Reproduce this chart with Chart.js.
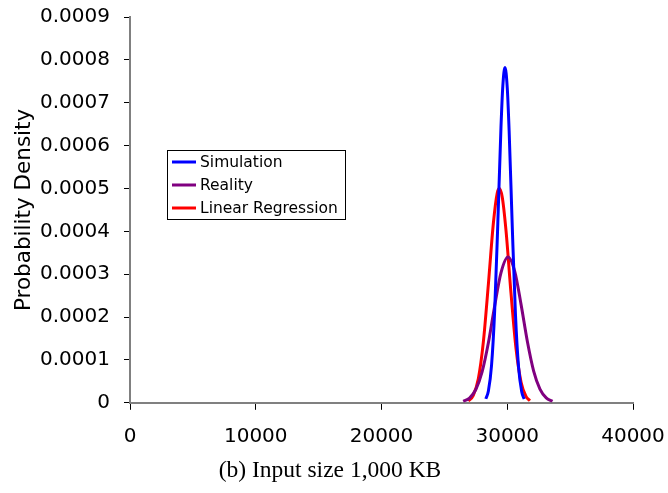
<!DOCTYPE html>
<html>
<head>
<meta charset="utf-8">
<script src="https://cdn.jsdelivr.net/npm/chart.js@4/dist/chart.umd.min.js"></script>
<style>
  html, body { margin: 0; padding: 0; background: #fff; }
  #wrap { width: 668px; height: 493px; }
</style>
</head>
<body>
<div id="wrap"><canvas id="pdfChart" width="668" height="493"></canvas></div>
<script>
// values (input size in KB vs probability density)
const simX = [28300, 28500, 28750, 29000, 29250, 29500, 29650, 29820, 30000, 30150, 30400, 30650, 30900, 31150, 31350];
const simY = [0.0000092, 0.0000274, 0.000087, 0.000215, 0.000419, 0.000642, 0.00074, 0.000782, 0.000735, 0.000634, 0.00041, 0.000208, 0.000083, 0.000026, 0.0000087];

const realX = [26500, 27000, 27500, 28000, 28500, 29000, 29500, 30060, 30600, 31100, 31600, 32100, 32600, 33100, 33600];
const realY = [0.0000034, 0.000011, 0.000031, 0.000072, 0.00014, 0.000226, 0.000303, 0.00034, 0.000306, 0.000229, 0.000143, 0.000074, 0.000032, 0.0000116, 0.0000035];

const lrX = [26900, 27300, 27700, 28100, 28500, 28900, 29200, 29370, 29600, 29900, 30300, 30700, 31100, 31500, 31800];
const lrY = [0.0000042, 0.0000175, 0.000056, 0.000142, 0.000277, 0.00042, 0.000489, 0.0005, 0.00048, 0.000402, 0.000255, 0.000126, 0.000048, 0.0000145, 0.000005];

const seriesNames = ['Simulation', 'Reality', 'Linear Regression'];
const seriesColors = ['#0000ff', '#800080', '#ff0000'];

const xTicks = [0, 10000, 20000, 30000, 40000];
const yMax = 0.0009;
const yStep = 0.0001;

const SANS = "'DejaVu Sans', Verdana, sans-serif";

function toPoints(xs, ys) {
    return xs.map((x, i) => ({ x: x, y: ys[i] }));
}

// legend drawn inside the plot area, boxed, like the original
const boxLegend = {
    id: 'boxLegend',
    afterDraw(chart) {
        const ctx = chart.ctx;
        const left = 167, top = 150, w = 178, h = 69;
        ctx.save();
        ctx.fillStyle = '#fff';
        ctx.fillRect(left, top, w, h);
        ctx.strokeStyle = '#000';
        ctx.lineWidth = 1;
        ctx.strokeRect(left + 0.5, top + 0.5, w, h);
        ctx.font = "15.5px " + SANS;
        ctx.textBaseline = 'middle';
        chart.data.datasets.forEach((ds, i) => {
            const y = top + 12 + i * 23;
            ctx.strokeStyle = ds.borderColor;
            ctx.lineWidth = 3;
            ctx.beginPath();
            ctx.moveTo(left + 5, y);
            ctx.lineTo(left + 29, y);
            ctx.stroke();
            ctx.fillStyle = '#000';
            ctx.fillText(ds.label, left + 33, y + 1);
        });
        ctx.restore();
    }
};

function initChart() {
    const ctx = document.getElementById('pdfChart').getContext('2d');
    const allX = [simX, realX, lrX];
    const allY = [simY, realY, lrY];

    new Chart(ctx, {
        type: 'scatter',
        data: {
            datasets: seriesNames.map((name, i) => ({
                label: name,
                data: toPoints(allX[i], allY[i]),
                showLine: true,
                borderColor: seriesColors[i],
                backgroundColor: seriesColors[i],
                borderWidth: 3,
                pointRadius: 0,
                cubicInterpolationMode: 'monotone'
            }))
        },
        options: {
            responsive: false,
            animation: false,
            layout: { padding: { left: 0, right: 8, top: 17, bottom: 4 } },
            plugins: {
                legend: { display: false },
                tooltip: { enabled: false },
                title: {
                    display: true,
                    position: 'bottom',
                    text: '(b) Input size 1,000 KB',
                    color: '#000',
                    font: { family: "'Liberation Serif', 'DejaVu Serif', serif", size: 23.5, weight: 'normal' },
                    padding: { top: 8, bottom: 4 }
                }
            },
            scales: {
                x: {
                    type: 'linear',
                    min: xTicks[0],
                    max: xTicks[xTicks.length - 1],
                    afterBuildTicks: (axis) => { axis.ticks = xTicks.map(v => ({ value: v })); },
                    afterFit: (axis) => {
                        axis.height = 46;
                        axis.paddingLeft = 0;
                        axis.paddingRight = 35;
                    },
                    grid: { drawOnChartArea: false, color: '#000', tickLength: 7 },
                    border: { color: '#808080', width: 2 },
                    ticks: {
                        color: '#000',
                        padding: 15,
                        maxRotation: 0,
                        font: { family: SANS, size: 20 },
                        callback: (v) => String(v)
                    }
                },
                y: {
                    min: 0,
                    max: yMax,
                    afterFit: (axis) => {
                        axis.width = 130;
                        axis.paddingTop = 0;
                        axis.paddingBottom = 0;
                    },
                    grid: { drawOnChartArea: false, color: '#000', tickLength: 6 },
                    border: { color: '#808080', width: 2 },
                    ticks: {
                        stepSize: yStep,
                        color: '#000',
                        padding: 14,
                        font: { family: SANS, size: 20 },
                        callback: (v) => (v === 0 ? '0' : v.toFixed(4))
                    },
                    title: {
                        display: true,
                        text: 'Probability Density',
                        color: '#000',
                        font: { family: SANS, size: 21.5 },
                        padding: { top: 12, bottom: 4 }
                    }
                }
            }
        },
        plugins: [boxLegend]
    });
}

initChart();
</script>
</body>
</html>
